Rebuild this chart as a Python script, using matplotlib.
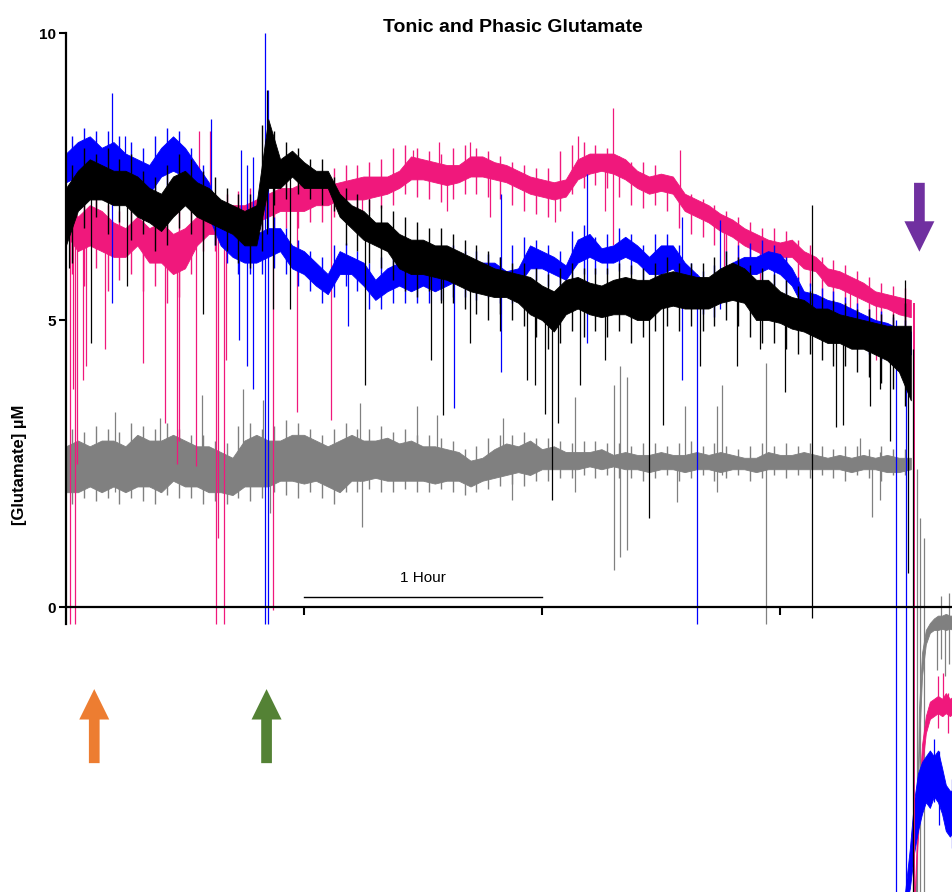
import numpy as np
import matplotlib.pyplot as plt
from matplotlib.patches import FancyArrow

plt.rcParams['font.family'] = ['Liberation Sans', 'DejaVu Sans']

# sample times (hours), one every 3 min
t = np.arange(72) * 0.05
# extra noise strokes sit half way between samples
tm = t[:-1] + 0.025

# noise band of each trace, lower / upper edge (uM)
pink_lo = [6.5, 6.2, 6.3, 6.2, 6.1, 6.1, 6.3, 6.0, 6.0, 5.8, 5.9, 6.3, 6.5, 6.5, 6.6, 6.6, 6.7, 6.8,
           6.9, 6.9, 6.9, 7.0, 7.0, 7.1, 7.1, 7.1, 7.15, 7.2, 7.3, 7.45, 7.45, 7.4, 7.35, 7.4, 7.5, 7.5,
           7.45, 7.4, 7.3, 7.2, 7.15, 7.1, 7.15, 7.45, 7.55, 7.6, 7.55, 7.45, 7.3, 7.2, 7.25, 7.2, 6.9, 6.8,
           6.7, 6.55, 6.45, 6.3, 6.2, 6.1, 6.1, 6.1, 5.9, 5.85, 5.6, 5.55, 5.45, 5.35, 5.25, 5.2, 5.1, 5.05]
pink_hi = [7.1, 6.8, 7.0, 6.9, 6.7, 6.6, 6.8, 6.6, 6.7, 6.5, 6.6, 6.8, 7.0, 7.0, 7.0, 7.0, 7.1, 7.2,
           7.3, 7.3, 7.4, 7.4, 7.35, 7.4, 7.45, 7.5, 7.5, 7.5, 7.6, 7.85, 7.8, 7.75, 7.7, 7.7, 7.85, 7.85,
           7.75, 7.7, 7.6, 7.5, 7.45, 7.4, 7.45, 7.8, 7.9, 7.9, 7.9, 7.8, 7.6, 7.5, 7.55, 7.5, 7.2, 7.1,
           7.0, 6.85, 6.75, 6.6, 6.5, 6.4, 6.35, 6.4, 6.2, 6.1, 5.9, 5.85, 5.75, 5.65, 5.5, 5.45, 5.4, 5.35]
pink_hair_lo = [5.8, 5.6, 5.9, 5.5, 5.7, 5.8, 5.5, 5.6, 5.3, 5.4,
                5.8, 6.2, 6.2, 6.3, 6.3, 6.4, 6.5, 6.5, 6.6, 6.6,
                6.7, 6.7, 6.8, 6.8, 6.8, 6.9, 6.95, 7.0, 7.2, 7.15,
                7.1, 7.05, 7.1, 7.2, 7.2, 7.15, 7.1, 7.0, 6.9, 6.85,
                6.8, 6.9, 7.2, 7.3, 7.35, 7.3, 7.15, 7.0, 6.95, 7.0,
                6.9, 6.6, 6.5, 6.45, 6.3, 6.2, 6.05, 5.95, 5.85, 5.85,
                5.85, 5.65, 5.6, 5.35, 5.3, 5.2, 5.1, 5.0, 4.95, 4.85, 4.8]
pink_hair_hi = [7.3, 7.1, 7.2, 7.0, 6.9, 7.0, 6.9, 7.0, 6.8, 6.9,
                7.0, 7.2, 7.2, 7.2, 7.25, 7.3, 7.45, 7.5, 7.55, 7.6,
                7.6, 7.6, 7.65, 7.7, 7.7, 7.75, 7.8, 8.0, 8.05, 8.0,
                7.95, 7.9, 8.0, 8.05, 8.0, 7.95, 7.85, 7.75, 7.7, 7.65,
                7.65, 7.95, 8.05, 8.1, 8.05, 8.0, 7.85, 7.75, 7.75, 7.7,
                7.45, 7.3, 7.2, 7.1, 7.0, 6.9, 6.8, 6.7, 6.6, 6.6,
                6.55, 6.4, 6.3, 6.1, 6.05, 5.95, 5.85, 5.75, 5.65, 5.6, 5.55]

blue_lo = [7.4, 7.5, 7.6, 7.5, 7.6, 7.4, 7.3, 7.2, 7.5, 7.6, 7.5, 7.2, 6.8, 6.3, 6.1, 6.0, 6.0, 6.1,
           6.2, 5.9, 5.8, 5.6, 5.45, 5.8, 5.8, 5.6, 5.35, 5.5, 5.6, 5.5, 5.6, 5.5, 5.6, 5.7, 5.6, 5.6,
           5.7, 5.5, 5.6, 5.9, 5.9, 5.8, 5.7, 6.0, 6.1, 6.0, 6.0, 6.1, 6.0, 5.8, 5.8, 5.9, 5.6, 5.4,
           5.3, 5.3, 5.6, 5.8, 5.8, 5.9, 5.8, 5.6, 5.2, 5.1, 5.0, 4.9, 4.85, 4.75, 4.6, 4.5, 4.5, 4.4]
blue_hi = [7.9, 8.1, 8.2, 8.0, 8.1, 7.9, 7.8, 7.7, 8.0, 8.2, 8.0, 7.7, 7.4, 6.8, 6.5, 6.4, 6.5, 6.6,
           6.6, 6.3, 6.2, 6.0, 5.8, 6.2, 6.1, 6.0, 5.7, 5.9, 6.0, 5.9, 6.0, 5.9, 6.0, 6.1, 6.0, 6.0,
           6.0, 5.85, 5.9, 6.3, 6.2, 6.1, 5.95, 6.4, 6.5, 6.25, 6.3, 6.45, 6.3, 6.1, 6.3, 6.3, 6.0, 5.8,
           5.6, 5.6, 6.0, 6.1, 6.1, 6.2, 6.15, 5.9, 5.5, 5.45, 5.35, 5.3, 5.2, 5.1, 5.0, 4.95, 4.85, 4.8]
blue_hair_lo = [7.2, 7.3, 7.3, 7.4, 7.2, 7.1, 7.0, 7.1, 7.3, 7.3,
                7.1, 6.8, 6.3, 6.0, 5.8, 5.8, 5.8, 5.9, 5.8, 5.6,
                5.5, 5.3, 5.4, 5.6, 5.5, 5.2, 5.2, 5.3, 5.3, 5.3,
                5.3, 5.35, 5.4, 5.4, 5.35, 5.4, 5.3, 5.3, 5.5, 5.7,
                5.6, 5.5, 5.6, 5.8, 5.8, 5.8, 5.85, 5.8, 5.6, 5.55,
                5.6, 5.4, 5.2, 5.1, 5.05, 5.3, 5.5, 5.6, 5.6, 5.6,
                5.4, 5.1, 4.9, 4.8, 4.7, 4.6, 4.5, 4.4, 4.3, 4.3, 4.2]
blue_hair_hi = [8.2, 8.35, 8.3, 8.3, 8.2, 8.1, 8.0, 8.2, 8.35, 8.3,
                8.0, 7.7, 7.1, 6.8, 6.7, 6.8, 6.9, 6.8, 6.6, 6.4,
                6.2, 6.1, 6.3, 6.35, 6.2, 6.0, 6.1, 6.2, 6.15, 6.2,
                6.15, 6.2, 6.3, 6.2, 6.2, 6.15, 6.1, 6.3, 6.45, 6.4,
                6.3, 6.2, 6.55, 6.65, 6.45, 6.5, 6.6, 6.5, 6.3, 6.5,
                6.5, 6.3, 6.0, 5.85, 5.95, 6.2, 6.3, 6.35, 6.4, 6.3,
                6.1, 5.75, 5.65, 5.55, 5.5, 5.4, 5.3, 5.2, 5.15, 5.05, 5.0]

black_lo = [6.3, 6.9, 7.1, 7.1, 7.0, 7.0, 6.8, 6.7, 6.55, 6.8, 7.0, 6.8, 6.7, 6.6, 6.5, 6.3, 6.3, 7.3,
            7.3, 7.5, 7.3, 7.3, 7.3, 6.8, 6.6, 6.4, 6.3, 6.2, 5.9, 5.8, 5.8, 5.75, 5.7, 5.6, 5.5, 5.45,
            5.4, 5.4, 5.3, 5.1, 5.0, 4.8, 5.1, 5.2, 5.1, 5.05, 5.1, 5.1, 5.0, 5.0, 5.2, 5.25, 5.2, 5.2,
            5.2, 5.3, 5.35, 5.3, 5.0, 5.0, 4.95, 4.85, 4.8, 4.7, 4.6, 4.6, 4.5, 4.5, 4.4, 4.3, 4.1, 3.6]
black_hi = [7.3, 7.6, 7.8, 7.7, 7.6, 7.6, 7.5, 7.3, 7.2, 7.5, 7.6, 7.4, 7.3, 7.1, 7.0, 6.9, 7.0, 8.5,
            7.8, 7.95, 7.75, 7.6, 7.6, 7.2, 7.0, 6.9, 6.7, 6.7, 6.5, 6.4, 6.4, 6.3, 6.3, 6.2, 6.1, 6.0,
            5.9, 5.85, 5.8, 5.75, 5.6, 5.5, 5.7, 5.75, 5.65, 5.6, 5.7, 5.75, 5.7, 5.7, 5.8, 5.85, 5.8, 5.75,
            5.75, 5.9, 6.0, 5.9, 5.7, 5.7, 5.5, 5.4, 5.35, 5.2, 5.2, 5.1, 5.05, 5.0, 4.95, 4.9, 4.9, 4.9]
black_hair_lo = [6.0, 6.6, 6.8, 6.5, 6.7, 6.4, 6.5, 6.2, 6.3, 6.6,
                 6.5, 6.4, 6.3, 6.2, 6.0, 5.9, 6.2, 7.0, 7.1, 7.2,
                 7.1, 7.0, 6.9, 6.3, 6.2, 6.0, 5.9, 5.7, 5.5, 5.4,
                 5.5, 5.3, 5.3, 5.2, 5.1, 5.0, 5.1, 5.0, 4.9, 4.7,
                 4.5, 4.6, 4.8, 4.7, 4.8, 4.7, 4.8, 4.6, 4.7, 4.8,
                 4.9, 4.8, 4.9, 4.8, 4.9, 5.0, 4.9, 4.7, 4.6, 4.6,
                 4.5, 4.4, 4.4, 4.3, 4.2, 4.2, 4.1, 4.0, 3.9, 3.8, 3.5]
black_hair_hi = [7.7, 8.0, 7.9, 8.0, 7.8, 7.9, 7.6, 7.5, 7.7, 7.9,
                 7.8, 7.6, 7.5, 7.3, 7.2, 7.2, 8.4, 8.3, 8.1, 8.0,
                 7.8, 7.8, 7.5, 7.3, 7.2, 7.1, 7.0, 6.9, 6.8, 6.7,
                 6.6, 6.6, 6.5, 6.4, 6.3, 6.2, 6.1, 6.0, 6.0, 5.9,
                 5.8, 5.9, 6.0, 5.9, 5.9, 5.9, 6.0, 5.95, 5.9, 6.0,
                 6.1, 6.0, 6.0, 6.0, 6.1, 6.2, 6.1, 5.95, 5.9, 5.8,
                 5.7, 5.6, 5.5, 5.4, 5.35, 5.3, 5.2, 5.2, 5.1, 5.1, 5.3]

gray_lo = [2.0, 2.0, 2.1, 2.0, 2.1, 2.0, 2.1, 2.1, 2.0, 2.2, 2.1, 2.1, 2.0, 2.0, 1.95, 2.1, 2.1, 2.1,
           2.2, 2.2, 2.15, 2.2, 2.1, 2.0, 2.2, 2.2, 2.25, 2.2, 2.2, 2.2, 2.2, 2.15, 2.2, 2.2, 2.1, 2.2,
           2.25, 2.3, 2.35, 2.3, 2.4, 2.4, 2.4, 2.4, 2.45, 2.4, 2.45, 2.4, 2.4, 2.35, 2.4, 2.4, 2.35, 2.4,
           2.4, 2.35, 2.4, 2.4, 2.35, 2.4, 2.4, 2.4, 2.4, 2.4, 2.4, 2.4, 2.35, 2.4, 2.4, 2.35, 2.35, 2.4]
gray_hi = [2.8, 2.9, 2.8, 2.9, 2.9, 2.8, 3.0, 2.9, 2.9, 3.0, 2.9, 2.8, 2.8, 2.7, 2.6, 2.9, 3.0, 2.9,
           2.9, 3.0, 3.0, 2.9, 2.8, 2.9, 3.0, 2.9, 2.9, 2.95, 2.85, 2.9, 2.8, 2.8, 2.75, 2.7, 2.55, 2.6,
           2.75, 2.85, 2.8, 2.9, 2.75, 2.8, 2.7, 2.7, 2.7, 2.75, 2.65, 2.7, 2.65, 2.65, 2.7, 2.65, 2.65, 2.7,
           2.65, 2.7, 2.65, 2.6, 2.6, 2.7, 2.65, 2.65, 2.7, 2.65, 2.6, 2.65, 2.6, 2.65, 2.6, 2.65, 2.6, 2.6]
gray_hair_lo = [1.8, 1.9, 1.85, 1.9, 1.8, 1.9, 1.85, 1.8, 1.95, 1.9,
                1.9, 1.8, 1.85, 1.8, 1.9, 1.85, 1.9, 2.0, 1.95, 1.9,
                2.0, 1.9, 1.8, 2.0, 2.0, 2.05, 2.0, 2.0, 2.05, 2.0,
                2.0, 2.05, 2.0, 1.95, 2.0, 2.05, 2.1, 2.15, 2.1, 2.2,
                2.2, 2.25, 2.25, 2.3, 2.25, 2.3, 2.25, 2.25, 2.2, 2.25,
                2.3, 2.2, 2.25, 2.3, 2.2, 2.25, 2.3, 2.2, 2.25, 2.3,
                2.25, 2.3, 2.25, 2.3, 2.25, 2.2, 2.3, 2.25, 2.2, 2.3, 2.3]
gray_hair_hi = [3.1, 3.05, 3.15, 3.1, 3.05, 3.2, 3.15, 3.1, 3.2, 3.1,
                3.0, 3.0, 2.9, 2.85, 3.15, 3.2, 3.1, 3.15, 3.25, 3.2,
                3.1, 3.0, 3.1, 3.2, 3.1, 3.1, 3.15, 3.05, 3.1, 3.0,
                3.0, 2.95, 2.9, 2.75, 2.8, 2.95, 3.0, 3.0, 3.05, 2.95,
                2.95, 2.9, 2.85, 2.9, 2.9, 2.85, 2.85, 2.8, 2.85, 2.85,
                2.8, 2.85, 2.9, 2.8, 2.85, 2.8, 2.75, 2.8, 2.85, 2.8,
                2.85, 2.8, 2.85, 2.8, 2.75, 2.8, 2.8, 2.75, 2.8, 2.75, 2.75]

# single transients: time (h), bottom, top
pink_spk_t = [0.017, 0.029, 0.038, 0.046, 0.071, 0.084, 0.164, 0.324, 0.416, 0.466, 0.475, 0.546,
              0.559, 0.605, 0.630, 0.639, 0.664, 0.672, 0.870, 0.971, 1.113, 1.244, 1.458, 1.567,
              1.601, 1.697, 1.782, 2.055, 2.151, 2.265, 2.298, 2.580, 2.765, 2.916, 3.294, 3.403]
pink_spk_lo = [-0.3, 3.8, -0.3, 2.5, 3.95, 4.2, 4.5, 4.25, 3.2, 2.5, 2.9, 2.45,
               6.5, 6.6, -0.3, 1.2, -0.3, 4.3, -0.05, 3.4, 3.25, 6.6, 7.5, 7.6,
               6.9, 7.6, 6.8, 6.7, 7.6, 6.9, 6.3, 7.3, 5.9, 5.6, 4.6, 4.3]
pink_spk_hi = [6.8, 6.8, 6.6, 6.6, 6.5, 6.5, 6.3, 6.5, 6.3, 6.2, 6.2, 6.4,
               8.3, 8.3, 6.7, 6.7, 6.8, 6.8, 6.9, 7.0, 7.1, 7.3, 7.96, 8.1,
               7.5, 8.1, 7.5, 7.3, 8.2, 7.6, 8.7, 7.96, 6.7, 6.4, 5.6, 5.4]

blue_spk_t = [0.193, 0.248, 0.609, 0.727, 0.735, 0.761, 0.786, 0.836, 0.849, 1.185, 1.630, 1.828,
              2.189, 2.588, 2.651, 2.748, 3.487, 3.529]
blue_spk_lo = [5.3, 7.2, 7.0, 4.65, 6.3, 4.2, 3.8, -0.3, -0.3, 4.9, 3.47, 4.1,
               4.6, 3.95, -0.3, 5.2, -5.3, -5.3]
blue_spk_hi = [8.95, 8.2, 8.5, 6.5, 7.96, 7.7, 7.84, 10.0, 9.0, 6.0, 6.0, 7.2,
               7.55, 6.8, 5.8, 6.75, 5.0, 4.6]

black_spk_t = [0.013, 0.105, 0.256, 0.576, 0.845, 0.870, 0.941, 1.256, 1.534, 1.584, 1.697, 1.824,
               1.937, 1.971, 2.013, 2.042, 2.067, 2.160, 2.265, 2.450, 2.508, 2.664, 2.819, 2.916,
               3.021, 3.134, 3.235, 3.265, 3.378, 3.420, 3.462, 3.525, 3.538, 3.559]
black_spk_lo = [5.9, 4.6, 5.6, 5.1, 6.5, 5.2, 5.2, 3.87, 4.3, 3.35, 4.6, 4.8,
                3.95, 3.87, 3.37, 1.86, 3.2, 3.87, 4.3, 1.55, 3.17, 4.2, 4.2, 4.5,
                3.75, -0.2, 3.14, 3.17, 3.5, 3.8, 2.9, 4.5, 0.6, -5.3]
black_spk_hi = [7.0, 7.5, 7.4, 7.0, 9.0, 7.5, 7.6, 6.6, 6.2, 6.2, 6.0, 5.9,
                5.6, 5.6, 5.5, 5.5, 5.5, 5.5, 5.6, 5.4, 5.5, 5.6, 5.6, 5.7,
                5.3, 7.0, 5.0, 5.0, 4.9, 4.9, 4.8, 5.7, 4.5, 4.5]

gray_spk_t = [0.206, 0.395, 0.571, 0.744, 0.828, 0.857, 1.235, 1.244, 1.475, 1.559, 1.836, 1.874,
              2.139, 2.303, 2.328, 2.357, 2.567, 2.601, 2.735, 2.756, 2.941, 3.336, 3.387, 3.420,
              3.576, 3.588, 3.605, 3.660, 3.676, 3.693, 3.710]
gray_spk_lo = [2.0, 2.0, 2.1, 2.1, 2.2, 1.64, 2.2, 1.4, 2.3, 2.3, 2.3, 1.86,
               2.0, 0.65, 0.87, 1.0, 1.83, 2.4, 2.0, 2.3, -0.3, 2.4, 1.57, 1.86,
               -5.3, -5.3, -5.3, -1.1, -0.9, -1.2, -1.0]
gray_spk_hi = [3.4, 3.3, 3.7, 3.8, 3.6, 2.8, 3.55, 2.5, 3.5, 3.35, 3.3, 2.6,
               3.66, 3.87, 4.2, 4.0, 2.6, 3.5, 3.5, 3.87, 4.25, 2.95, 2.6, 2.7,
               2.4, 1.55, 1.2, -0.2, 0.2, -0.2, 0.25]

pink_drop_t = [3.563]
pink_drop_lo = [-5.3]
pink_drop_hi = [5.3]

# recovery after the purple arrow (times in h)
blue_rec_t = [3.525, 3.546, 3.563, 3.580, 3.597, 3.613, 3.630, 3.647, 3.664, 3.681, 3.697, 3.714, 3.731]
blue_rec_lo = [-5.3, -4.9, -4.3, -3.9, -3.6, -3.4, -3.5, -3.3, -3.4, -3.6, -3.9, -4.0, -3.9]
blue_rec_hi = [-5.0, -4.2, -3.4, -2.9, -2.7, -2.6, -2.5, -2.6, -2.5, -2.8, -3.1, -3.2, -3.2]
pink_rec_t = [3.563, 3.580, 3.597, 3.613, 3.630, 3.647, 3.664, 3.681, 3.697, 3.714, 3.731]
pink_rec_lo = [-5.3, -4.0, -2.8, -2.2, -1.95, -1.9, -1.85, -1.9, -1.85, -1.9, -1.85]
pink_rec_hi = [-5.3, -3.6, -2.4, -1.9, -1.65, -1.6, -1.55, -1.6, -1.5, -1.6, -1.55]
gray_rec_t = [3.571, 3.584, 3.597, 3.613, 3.630, 3.647, 3.664, 3.681, 3.697, 3.714, 3.731]
gray_rec_lo = [-5.3, -2.5, -1.2, -0.65, -0.45, -0.4, -0.4, -0.38, -0.4, -0.38, -0.4]
gray_rec_hi = [-5.3, -1.8, -0.8, -0.4, -0.28, -0.2, -0.15, -0.15, -0.12, -0.15, -0.15]
pink_rec_spk_t = [3.664, 3.685, 3.706]
pink_rec_spk_lo = [-2.1, -1.9, -2.2]
pink_rec_spk_hi = [-1.2, -1.15, -1.5]
blue_rec_spk_t = [3.647, 3.668, 3.722]
blue_rec_spk_lo = [-3.4, -3.8, -4.2]
blue_rec_spk_hi = [-2.3, -2.5, -3.0]

PINK = '#F0187C'
BLUE = '#0000FF'
GRAY = '#808080'
BLACK = '#000000'

fig = plt.figure(figsize=(9.52, 8.92), dpi=100)
ax = fig.add_axes([0, 0, 1, 1])
ax.set_xlim(-0.277, 3.723)
ax.set_ylim(-4.965, 10.575)

traces = [
    (GRAY, gray_lo, gray_hi, gray_hair_lo, gray_hair_hi, gray_spk_t, gray_spk_lo, gray_spk_hi,
     gray_rec_t, gray_rec_lo, gray_rec_hi),
    (PINK, pink_lo, pink_hi, pink_hair_lo, pink_hair_hi, pink_spk_t, pink_spk_lo, pink_spk_hi,
     pink_rec_t, pink_rec_lo, pink_rec_hi),
    (BLUE, blue_lo, blue_hi, blue_hair_lo, blue_hair_hi, blue_spk_t, blue_spk_lo, blue_spk_hi,
     blue_rec_t, blue_rec_lo, blue_rec_hi),
    (BLACK, black_lo, black_hi, black_hair_lo, black_hair_hi, black_spk_t, black_spk_lo, black_spk_hi,
     None, None, None),
]
for z, (c, lo, hi, hlo, hhi, st, slo, shi, rt, rlo, rhi) in enumerate(traces):
    zz = 2 + z
    ax.fill_between(t, lo, hi, color=c, lw=0.6, zorder=zz)
    ax.vlines(tm, hlo, hhi, color=c, lw=1.0, zorder=zz)
    ax.vlines(st, slo, shi, color=c, lw=0.9, zorder=zz)
    if rt is not None:
        ax.fill_between(rt, rlo, rhi, color=c, lw=0.6, zorder=zz)

ax.vlines(pink_drop_t, pink_drop_lo, pink_drop_hi, color=PINK, lw=1.4, zorder=4)
ax.vlines(pink_rec_spk_t, pink_rec_spk_lo, pink_rec_spk_hi, color=PINK, lw=0.9, zorder=3)
ax.vlines(blue_rec_spk_t, blue_rec_spk_lo, blue_rec_spk_hi, color=BLUE, lw=0.9, zorder=4)

# axes
for s in ['top', 'right']:
    ax.spines[s].set_visible(False)
ax.spines['left'].set_position(('data', 0))
ax.spines['bottom'].set_position(('data', 0))
ax.spines['left'].set_bounds(-0.3, 10)
ax.spines['bottom'].set_bounds(0, 3.8)
for s in ['left', 'bottom']:
    ax.spines[s].set_linewidth(1.6)
    ax.spines[s].set_zorder(10)
ax.set_yticks([0, 5, 10])
ax.set_yticklabels(['0', '5', '10'], fontsize=11, fontweight='bold')
ax.set_xticks([1, 2, 3])
ax.set_xticklabels([])
ax.tick_params(axis='y', length=5, width=1.5, direction='out', pad=2)
ax.tick_params(axis='x', length=6, width=1.5, direction='out')

fig.text(513 / 952, 1 - 27 / 892, 'Tonic and Phasic Glutamate', ha='center', va='center',
         fontsize=14, fontweight='bold')
fig.text(20 / 952, 1 - 465 / 892, '[Glutamate] µM', ha='center', va='center',
         rotation=90, fontsize=12, fontweight='bold')

# 1 hour scale bar
ax.plot([1.0, 2.0], [0.17, 0.17], color='black', lw=1.0, zorder=11)
ax.text(1.5, 0.38, '1 Hour', ha='center', va='bottom', fontsize=11)

# event arrows
arrows = [(0.119, -2.72, 1.29, '#ED7D31'), (0.843, -2.72, 1.29, '#548235'),
          (3.586, 7.39, -1.2, '#7030A0')]
for x, y, dy, c in arrows:
    ax.add_patch(FancyArrow(x, y, 0, dy, width=0.045, head_width=0.126, head_length=0.53,
                            length_includes_head=True, color=c, lw=0, zorder=12))

fig.savefig('out.png', dpi=100)
